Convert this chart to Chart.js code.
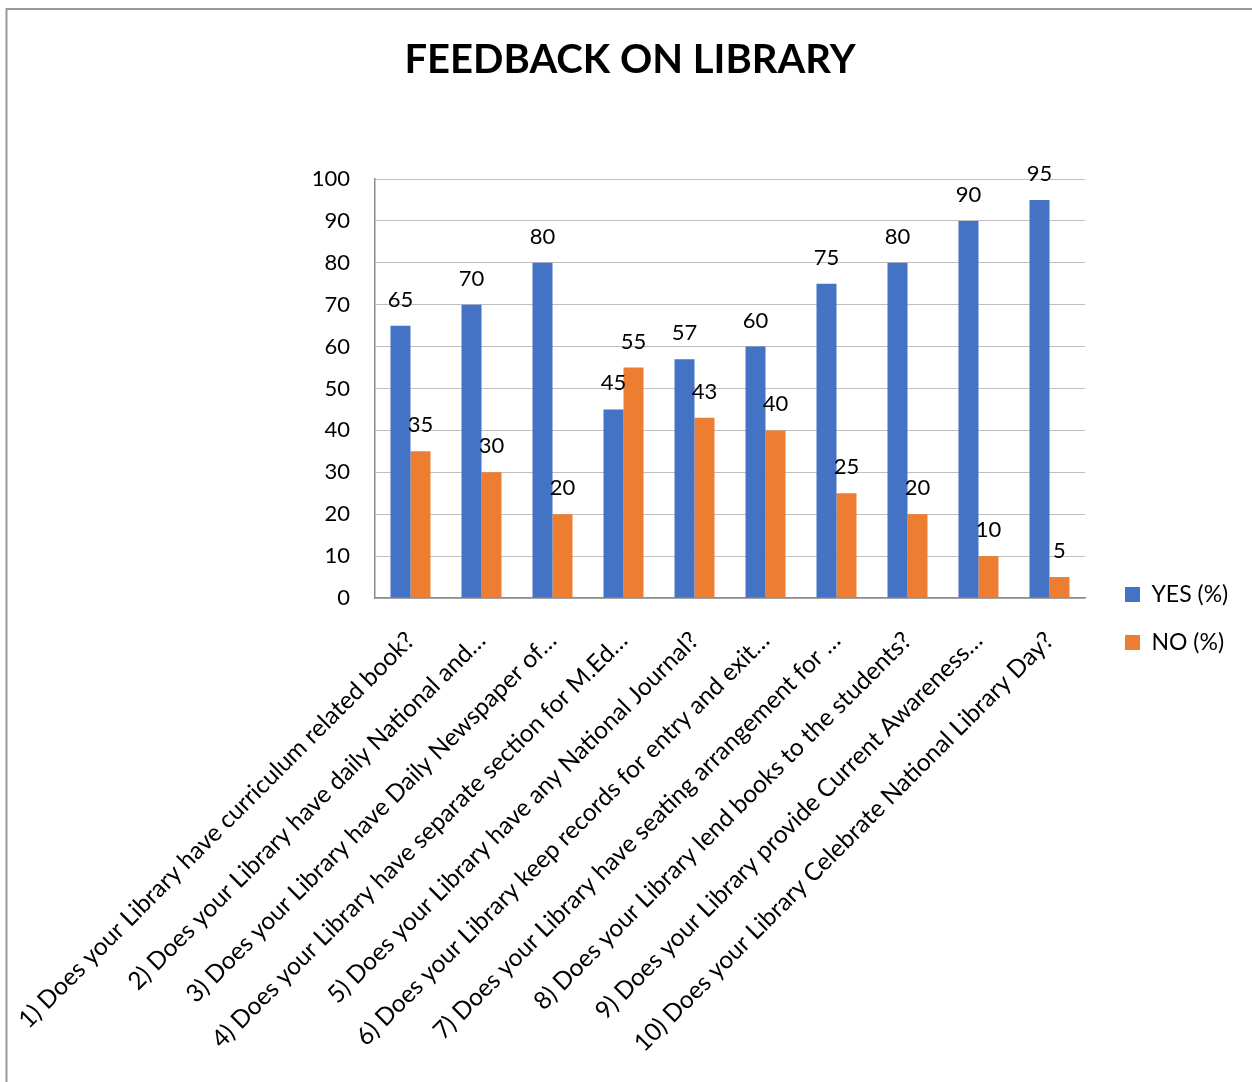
<!DOCTYPE html>
<html>
<head>
<meta charset="utf-8">
<script src="https://cdn.jsdelivr.net/npm/chart.js@4"></script>
<style>
  html, body { margin: 0; padding: 0; background: #fff; }
  #wrap { position: relative; width: 1252px; height: 1082px; }
</style>
</head>
<body>
<div id="wrap"><canvas id="c" width="1252" height="1082"></canvas></div>
<script>
const chartTitle = 'FEEDBACK ON LIBRARY';
const categories = [
  '1) Does your Library have curriculum related book?',
  '2) Does your Library have daily National and\u2026',
  '3) Does your Library have Daily Newspaper of\u2026',
  '4) Does your Library have separate section for M.Ed\u2026',
  '5) Does your Library have any National Journal?',
  '6) Does your Library keep records for entry and exit\u2026',
  '7) Does your Library have seating arrangement for \u2026',
  '8) Does your Library lend books to the students?',
  '9) Does your Library provide Current Awareness\u2026',
  '10) Does your Library Celebrate National Library Day?'
];
const seriesNames = ['YES (%)', 'NO (%)'];
const yesValues = [65, 70, 80, 45, 57, 60, 75, 80, 90, 95];
const noValues  = [35, 30, 20, 55, 43, 40, 25, 20, 10, 5];
const yMin = 0, yMax = 100, yStep = 10;

const FONT = 'Lato, "Open Sans", "DejaVu Sans", sans-serif';

const frame = {
  id: 'frame',
  beforeDraw(chart) {
    const ctx = chart.ctx;
    ctx.save();
    ctx.fillStyle = '#fff';
    ctx.fillRect(0, 0, chart.width, chart.height);
    ctx.strokeStyle = '#9a9a9a';
    ctx.lineWidth = 2;
    ctx.beginPath();
    ctx.moveTo(6.5, chart.height);
    ctx.lineTo(6.5, 9);
    ctx.lineTo(chart.width, 9);
    ctx.stroke();
    ctx.restore();
  }
};

const legendPlace = {
  id: 'legendPlace',
  afterLayout(chart) {
    const lg = chart.legend;
    if (!lg) return;
    lg.left = 1100; lg.right = 1100 + 150;
    lg.top = 558; lg.bottom = 1082;
    lg.width = 150; lg.height = 1082 - 558;
  }
};

const valueLabels = {
  id: 'valueLabels',
  afterDatasetsDraw(chart) {
    const ctx = chart.ctx;
    ctx.save();
    ctx.font = '22px ' + FONT;
    ctx.fillStyle = '#000';
    ctx.textAlign = 'center';
    ctx.textBaseline = 'alphabetic';
    chart.data.datasets.forEach((ds, i) => {
      const meta = chart.getDatasetMeta(i);
      meta.data.forEach((bar, j) => {
        ctx.fillText(String(ds.data[j]), bar.x, bar.y - 19);
      });
    });
    ctx.restore();
  }
};

new Chart(document.getElementById('c'), {
  type: 'bar',
  data: {
    labels: categories,
    datasets: [
      { label: seriesNames[0], data: yesValues, backgroundColor: '#4472C4', borderWidth: 0,
        categoryPercentage: 0.5634, barPercentage: 1.0 },
      { label: seriesNames[1], data: noValues, backgroundColor: '#ED7D31', borderWidth: 0,
        categoryPercentage: 0.5634, barPercentage: 1.0 }
    ]
  },
  options: {
    responsive: false,
    animation: false,
    devicePixelRatio: 1,
    layout: { padding: { top: 10, left: 8, right: 0, bottom: 0 } },
    plugins: {
      title: {
        display: true,
        text: chartTitle,
        color: '#000',
        font: { family: FONT, size: 40, weight: 'bold' },
        lineHeight: 1.2,
        padding: { top: 26, bottom: 95 }
      },
      legend: {
        display: true,
        position: 'chartArea',
        align: 'start',
        labels: {
          color: '#000',
          font: { family: FONT, size: 23 },
          boxWidth: 15,
          boxHeight: 15,
          padding: 25
        }
      },
      tooltip: { enabled: false }
    },
    scales: {
      x: {
        grid: { display: false },
        border: { display: true, color: '#8c8c8c', width: 1.5 },
        ticks: {
          color: '#000',
          font: { family: FONT, size: 24.5 },
          minRotation: 45,
          maxRotation: 45,
          autoSkip: false,
          padding: 20
        },
        afterFit(s) { s.height = 1082 - 598; s.paddingLeft = 0; s.paddingRight = 0; }
      },
      y: {
        position: 'left',
        min: yMin, max: yMax,
        grid: { color: '#bfbfbf', lineWidth: 1, drawTicks: false },
        border: { display: true, color: '#8c8c8c', width: 1.5 },
        ticks: {
          stepSize: yStep,
          color: '#000',
          font: { family: FONT, size: 22 },
          padding: 25
        },
        afterFit(s) { s.width = 375 - 8; }
      },
      yR: {
        type: 'linear',
        position: 'right',
        display: true,
        grid: { display: false, drawOnChartArea: false, drawTicks: false },
        border: { display: false },
        ticks: { display: false },
        afterFit(s) { s.width = 1252 - 1085; }
      }
    }
  },
  plugins: [frame, legendPlace, valueLabels]
});
</script>
</body>
</html>
